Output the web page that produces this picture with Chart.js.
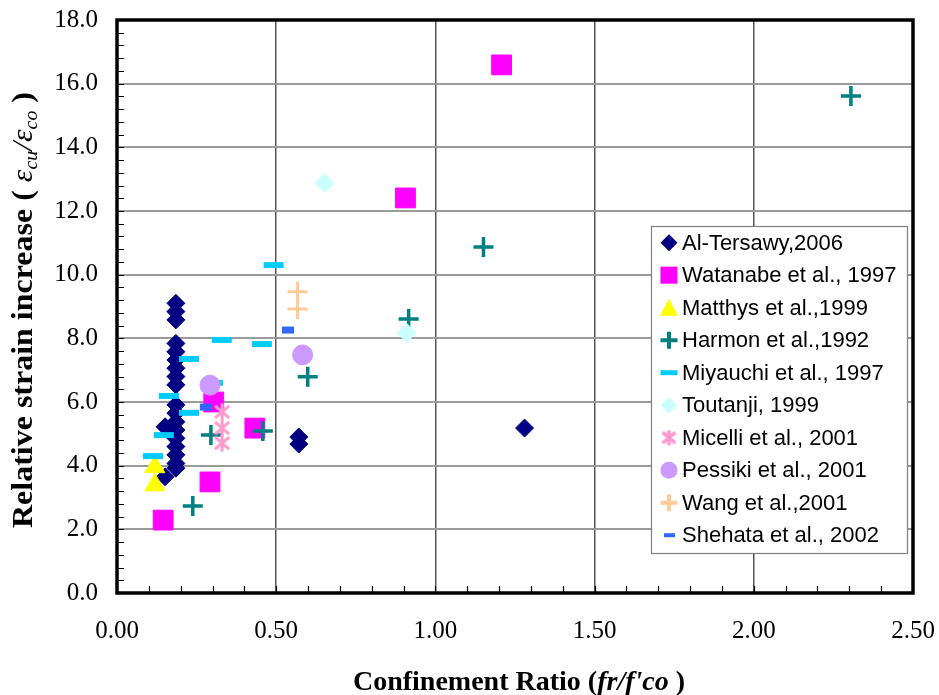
<!DOCTYPE html>
<html><head><meta charset="utf-8">
<script src="https://cdn.jsdelivr.net/npm/chart.js@4.4.1/dist/chart.umd.min.js"></script>
<style>html,body{margin:0;padding:0;background:#fff}#wrap{width:939px;height:695px;position:relative}</style>
</head><body><div id="wrap"><canvas id="c"></canvas></div>
<script>
// ---- data ----
const seriesNames = ["Al-Tersawy,2006","Watanabe et al., 1997","Matthys et al.,1999","Harmon et al.,1992","Miyauchi et al., 1997","Toutanji, 1999","Micelli et al., 2001","Pessiki et al., 2001","Wang et al.,2001","Shehata et al., 2002"];
const alTersawyX = [0.185,0.185,0.185,0.185,0.185,0.185,0.185,0.185,0.185,0.185,0.185,0.185,0.185,0.185,0.185,0.185,0.185,0.185,0.151,0.151,0.571,0.571,1.28];
const alTersawyY = [9.10,8.84,8.58,7.84,7.58,7.32,7.06,6.80,6.54,5.91,5.65,5.38,5.12,4.86,4.60,4.34,4.07,3.92,5.22,3.65,4.90,4.68,5.18];
const watanabeX = [0.145,0.292,0.304,0.433,0.906,1.208];
const watanabeY = [2.29,3.49,6.00,5.18,12.41,16.59];
const matthysX = [0.119,0.119];
const matthysY = [3.96,3.39];
const harmonX = [0.238,0.295,0.458,0.599,0.916,1.151,2.305];
const harmonY = [2.73,4.96,5.09,6.79,8.61,10.87,15.61];
const miyauchiX = [0.113,0.147,0.163,0.226,0.226,0.301,0.329,0.455,0.492];
const miyauchiY = [4.30,4.96,6.19,5.66,7.35,6.60,7.95,7.82,10.30];
const toutanjiX = [0.652,0.910];
const toutanjiY = [12.88,8.17];
const micelliX = [0.330,0.330,0.330];
const micelliY = [5.69,5.18,4.71];
const pessikiX = [0.292,0.583];
const pessikiY = [6.53,7.48];
const wangX = [0.567,0.567];
const wangY = [9.46,8.92];
const shehataX = [0.279,0.537];
const shehataY = [5.84,8.26];
const xTickStep = 0.5, yTickStep = 2;

// ---- styles ----
function starCanvas(size, color, lw){
  const c = document.createElement('canvas'); c.width = size; c.height = size;
  const g = c.getContext('2d'); g.strokeStyle = color; g.lineWidth = lw; g.lineCap = 'butt';
  const m = size/2, r = size/2 - 1;
  g.beginPath();
  g.moveTo(m, m - r); g.lineTo(m, m + r);
  g.moveTo(m - r*0.85, m - r*0.72); g.lineTo(m + r*0.85, m + r*0.72);
  g.moveTo(m + r*0.85, m - r*0.72); g.lineTo(m - r*0.85, m + r*0.72);
  g.stroke();
  return c;
}
const micelliImg = starCanvas(19, '#FF99CC', 3);
const micelliLegendImg = starCanvas(17, '#FF99CC', 3.5);
const styles = [
  {ps:'rectRot', r:9, color:'#000080', bw:1},
  {ps:'rect', r:14, color:'#FF00FF', bw:1},
  {ps:'triangle', r:11.5, color:'#FFFF00', bw:1},
  {ps:'cross', r:10, color:'#008080', bw:3.5},
  {ps:'line', r:10, color:'#00CCFF', bw:6},
  {ps:'rectRot', r:9.5, color:'#CCFFFF', bw:1},
  {ps:micelliImg, r:9, color:'#FF99CC', bw:3},
  {ps:'circle', r:10, color:'#CC99FF', bw:1},
  {ps:'cross', r:10, color:'#FFCC99', bw:3},
  {ps:'line', r:6, color:'#3366FF', bw:7}
];
const seriesX = [alTersawyX,watanabeX,matthysX,harmonX,miyauchiX,toutanjiX,micelliX,pessikiX,wangX,shehataX];
const seriesY = [alTersawyY,watanabeY,matthysY,harmonY,miyauchiY,toutanjiY,micelliY,pessikiY,wangY,shehataY];
const N = seriesNames.length;
const datasets = seriesNames.map((name,i)=>({
  label: name,
  data: seriesX[i].map((x,k)=>({x:x, y:seriesY[i][k]})),
  pointStyle: styles[i].ps,
  pointRadius: styles[i].r,
  backgroundColor: styles[i].color,
  borderColor: styles[i].color,
  borderWidth: styles[i].bw,
  pointBorderWidth: styles[i].bw,
  showLine: false,
  order: N - i
}));

function drawLegendMarker(ctx, i, x, y){
  const st = styles[i];
  ctx.save();
  ctx.fillStyle = st.color; ctx.strokeStyle = st.color;
  ctx.beginPath();
  switch(i){
    case 0: case 5: {
      const r = 8.5; ctx.moveTo(x, y-r); ctx.lineTo(x+r, y); ctx.lineTo(x, y+r); ctx.lineTo(x-r, y); ctx.closePath(); ctx.fill(); break; }
    case 1: ctx.fillRect(x-8.5, y-8.5, 17, 17); break;
    case 2: ctx.moveTo(x, y-9); ctx.lineTo(x+9, y+8); ctx.lineTo(x-9, y+8); ctx.closePath(); ctx.fill(); break;
    case 3: case 8: ctx.lineWidth = 4; ctx.moveTo(x-8.5, y); ctx.lineTo(x+8.5, y); ctx.moveTo(x, y-8.5); ctx.lineTo(x, y+8.5); ctx.stroke(); break;
    case 4: ctx.lineWidth = 5; ctx.moveTo(x-8.5, y); ctx.lineTo(x+8.5, y); ctx.stroke(); break;
    case 6: ctx.drawImage(micelliLegendImg, x-8.5, y-8.5); break;
    case 7: ctx.arc(x, y, 8.5, 0, Math.PI*2); ctx.fill(); break;
    case 9: ctx.lineWidth = 4; ctx.moveTo(x-5, y); ctx.lineTo(x+6, y); ctx.stroke(); break;
  }
  ctx.restore();
}

function drawRuns(ctx, runs, x, y){
  let cx = x;
  runs.forEach(r=>{ ctx.font = r.font; ctx.fillText(r.t, cx, y + (r.dy||0)); cx += ctx.measureText(r.t).width; });
}
function runsWidth(ctx, runs){
  let w = 0; runs.forEach(r=>{ ctx.font = r.font; w += ctx.measureText(r.t).width; }); return w;
}

const decorPlugin = {
  id: 'decor',
  afterDraw(chart){
    const ctx = chart.ctx, a = chart.chartArea;
    const xs = chart.scales.x, ys = chart.scales.y;
    ctx.save();
    // minor ticks (inward)
    ctx.strokeStyle = '#000'; ctx.lineWidth = 1.2;
    ctx.beginPath();
    for (let v = 0.1; v < 2.5; v += 0.1){
      const px = Math.round(xs.getPixelForValue(v)) + 0.5;
      ctx.moveTo(px, a.bottom); ctx.lineTo(px, a.bottom - 7);
    }
    for (let v = 0.4; v < 18; v += 0.4){
      const py = Math.round(ys.getPixelForValue(v)) + 0.5;
      ctx.moveTo(a.left, py); ctx.lineTo(a.left + 7, py);
    }
    ctx.stroke();
    // frame
    ctx.lineWidth = 3.5; ctx.strokeStyle = '#000';
    ctx.strokeRect(a.left, a.top, a.right - a.left, a.bottom - a.top);

    // x title
    ctx.fillStyle = '#000'; ctx.textBaseline = 'alphabetic';
    const xr = [
      {t:'Confinement Ratio (', font:'bold 28px "Liberation Serif"'},
      {t:"fr/f'co", font:'bold italic 28px "Liberation Serif"'},
      {t:' )', font:'bold 28px "Liberation Serif"'}
    ];
    const xw = runsWidth(ctx, xr);
    drawRuns(ctx, xr, (a.left + a.right)/2 - xw/2 + 4, 690);

    // y title (rotated, slightly stretched along its length like the reference)
    const yr = [
      {t:'Relative strain increase ( ', font:'bold 29px "Liberation Serif"'},
      {t:'\u03B5', font:'italic 29px "Liberation Serif"'},
      {t:'cu', font:'italic 18px "Liberation Serif"', dy:5},
      {t:'/', font:'italic 29px "Liberation Serif"'},
      {t:'\u03B5', font:'italic 29px "Liberation Serif"'},
      {t:'co', font:'italic 18px "Liberation Serif"', dy:5},
      {t:' )', font:'bold 29px "Liberation Serif"'}
    ];
    const yw = runsWidth(ctx, yr);
    const sx = 436 / yw;
    ctx.save();
    ctx.translate(32, 310);
    ctx.rotate(-Math.PI/2);
    ctx.scale(sx, 1);
    drawRuns(ctx, yr, -yw/2, 0);
    ctx.restore();

    // legend box
    const lx = 651, ly = 226, lw = 256, lh = 327;
    ctx.fillStyle = '#fff'; ctx.fillRect(lx, ly, lw, lh);
    ctx.strokeStyle = '#7f7f7f'; ctx.lineWidth = 1.2; ctx.strokeRect(lx + 0.5, ly + 0.5, lw, lh);
    ctx.font = '22px "Liberation Sans"'; ctx.textBaseline = 'middle'; ctx.fillStyle = '#000';
    seriesNames.forEach((name, i)=>{
      const cy = 242.7 + i*32.5;
      drawLegendMarker(ctx, i, 669, cy);
      ctx.fillStyle = '#000';
      ctx.font = '22px "Liberation Sans"';
      ctx.fillText(name, 682, cy + 1);
    });
    ctx.restore();
  }
};

new Chart(document.getElementById('c'), {
  type: 'scatter',
  data: { datasets },
  options: {
    responsive: true, maintainAspectRatio: false, animation: false,
    events: [],
    layout: { padding: { left: 0, top: 20, right: 26, bottom: 0 } },
    plugins: { legend: { display: false }, tooltip: { enabled: false }, title: { display: false } },
    scales: {
      x: {
        type: 'linear', min: 0, max: 2.5,
        afterFit(s){ s.height = 102; s.paddingLeft = 0; s.paddingRight = 0; },
        border: { display: false },
        grid: { color: '#555555', lineWidth: 1.5, drawTicks: false },
        ticks: { stepSize: xTickStep, padding: 23, color: '#000', maxRotation: 0,
                 font: { family: '"Liberation Serif"', size: 25 },
                 callback: v => Number(v).toFixed(2) }
      },
      y: {
        type: 'linear', min: 0, max: 18,
        afterFit(s){ s.width = 117; s.paddingTop = 0; s.paddingBottom = 0; },
        border: { display: false },
        grid: { color: '#9a9a9a', lineWidth: 2, drawTicks: false },
        ticks: { stepSize: yTickStep, padding: 19, color: '#000',
                 font: { family: '"Liberation Serif"', size: 25 },
                 callback: v => Number(v).toFixed(1) }
      }
    }
  },
  plugins: [decorPlugin]
});
</script>
</body></html>
